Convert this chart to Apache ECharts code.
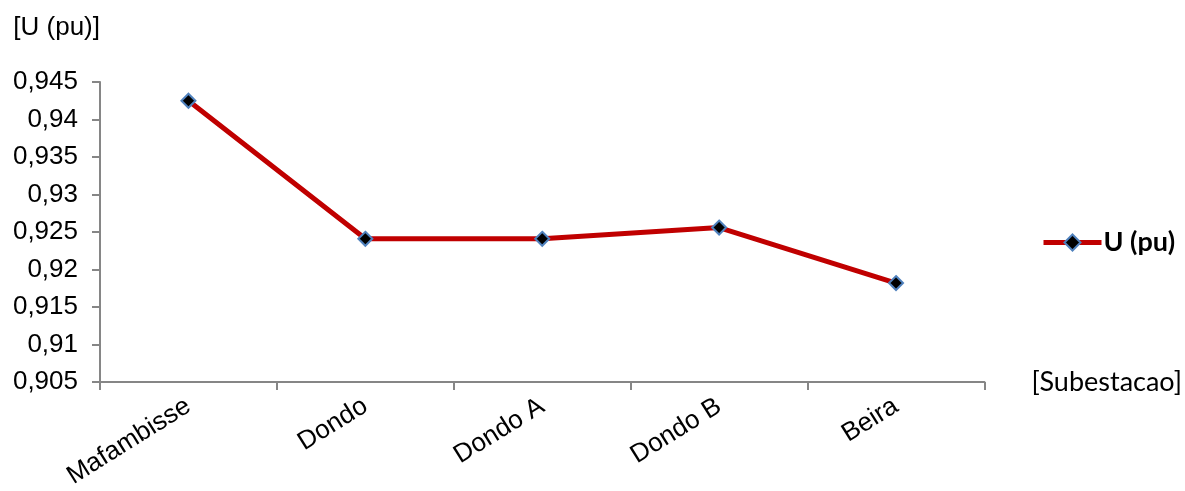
<!DOCTYPE html>
<html>
<head>
<meta charset="utf-8">
<script src="https://cdn.jsdelivr.net/npm/echarts@6/dist/echarts.min.js"></script>
<style>
  html, body { margin: 0; padding: 0; background: #fff; }
  #chart { width: 1185px; height: 491px; }
</style>
</head>
<body>
<div id="chart"></div>
<script>
// Substations along the line and their per-unit voltage
const substations = ['Mafambisse', 'Dondo', 'Dondo A', 'Dondo B', 'Beira'];
const voltagePu = [0.9425, 0.9241, 0.9241, 0.9256, 0.9182];
const seriesName = 'U (pu)';
const yMin = 0.905, yMax = 0.945, yStep = 0.005;

const axisGrey = '#868686';
const arial = 'Liberation Sans, Arial, sans-serif';
const chart = echarts.init(document.getElementById('chart'));

chart.setOption({
  animation: false,
  backgroundColor: '#ffffff',
  grid: { left: 100, right: 200, top: 82, bottom: 108, containLabel: false },
  legend: {
    data: [seriesName],
    orient: 'vertical',
    left: 1036,
    top: 224,
    itemWidth: 58,
    itemHeight: 20,
    itemGap: 4,
    itemStyle: { borderWidth: 2 },
    lineStyle: { width: 5, color: '#C00000' },
    textStyle: { fontFamily: 'Lato', fontWeight: 'bold', fontSize: 27, color: '#000', padding: [0, 0, 0, -3] }
  },
  xAxis: {
    type: 'category',
    data: substations,
    boundaryGap: true,
    name: '[Subestacao]',
    nameLocation: 'end',
    nameGap: 47,
    nameTextStyle: { fontFamily: 'Lato', fontSize: 27, color: '#000', verticalAlign: 'middle' },
    axisLine: { lineStyle: { color: axisGrey, width: 2 } },
    axisTick: { show: true, alignWithLabel: false, length: 8, lineStyle: { color: axisGrey, width: 2 } },
    axisLabel: {
      rotate: 32,
      margin: 22,
      fontFamily: arial,
      fontSize: 26,
      color: '#000'
    },
    splitLine: { show: false }
  },
  yAxis: {
    type: 'value',
    min: yMin,
    max: yMax,
    interval: yStep,
    name: '[U (pu)]',
    nameLocation: 'end',
    nameGap: 54,
    nameTextStyle: {
      fontFamily: arial,
      fontSize: 26,
      color: '#000',
      align: 'right',
      verticalAlign: 'middle'
    },
    axisLine: { show: true, lineStyle: { color: axisGrey, width: 2 } },
    axisTick: { show: true, length: 8, lineStyle: { color: axisGrey, width: 2 } },
    axisLabel: {
      margin: 22,
      fontFamily: arial,
      fontSize: 26,
      color: '#000',
      formatter: v => String(+v.toFixed(3)).replace('.', ',')
    },
    splitLine: { show: false }
  },
  series: [{
    name: seriesName,
    type: 'line',
    data: voltagePu,
    symbol: 'diamond',
    symbolSize: 14,
    lineStyle: { color: '#C00000', width: 5 },
    itemStyle: { color: '#000000', borderColor: '#4F81BD', borderWidth: 2 },
    emphasis: { disabled: true }
  }]
});
</script>
</body>
</html>
